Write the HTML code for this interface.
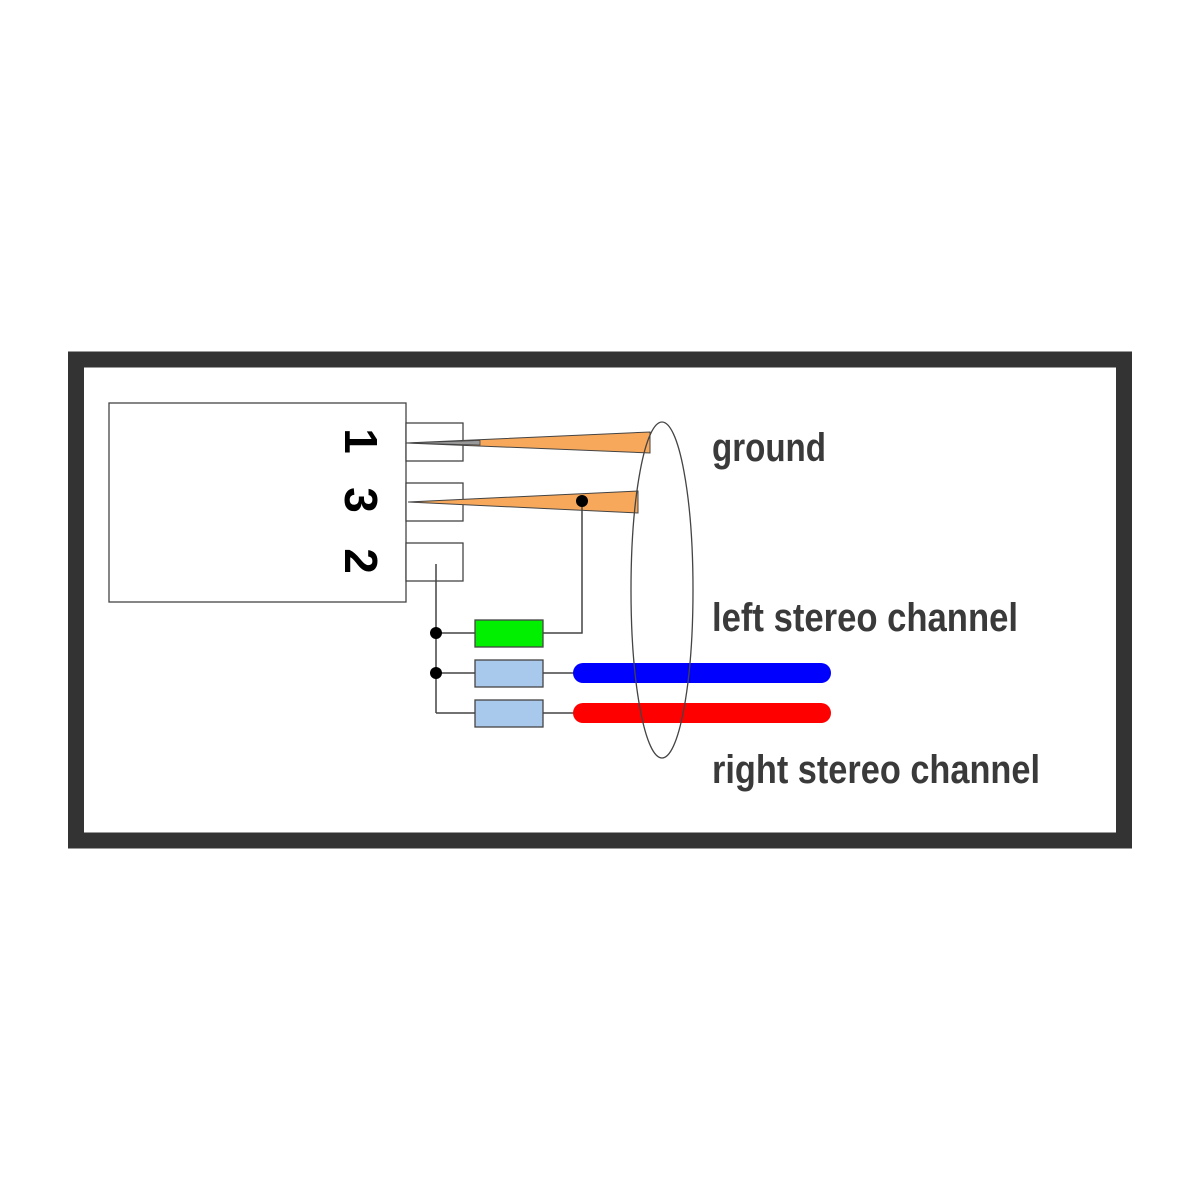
<!DOCTYPE html>
<html><head><style>html,body{margin:0;padding:0;background:#fff;}svg{display:block}</style></head>
<body>
<svg width="1200" height="1200" xmlns="http://www.w3.org/2000/svg">
<rect x="76" y="359.5" width="1048" height="481" fill="none" stroke="#333" stroke-width="16"/>
<rect x="109" y="403" width="297" height="199" fill="#fff" stroke="#444" stroke-width="1.3"/>
<g fill="#fff" stroke="#444" stroke-width="1.3">
<rect x="406" y="423" width="57" height="38"/>
<rect x="406" y="483" width="57" height="38"/>
<rect x="406" y="543" width="57" height="38"/>
</g>
<polygon points="406,443 650,432 650,453" fill="#f8a85a" stroke="#444" stroke-width="1"/>
<polygon points="406,443 480,440.5 480,445" fill="#999" stroke="#444" stroke-width="0.8"/>
<polygon points="408,502 638,491 638,513" fill="#f8a85a" stroke="#444" stroke-width="1"/>
<g stroke="#444" stroke-width="1.5" fill="none">
<polyline points="582,501 582,633 543,633"/>
<line x1="436" y1="564" x2="436" y2="713"/>
<line x1="436" y1="633" x2="475" y2="633"/>
<line x1="436" y1="673" x2="475" y2="673"/>
<line x1="436" y1="713" x2="475" y2="713"/>
<line x1="543" y1="673" x2="580" y2="673"/>
<line x1="543" y1="713" x2="580" y2="713"/>
</g>
<circle cx="582" cy="501" r="6" fill="#000"/>
<circle cx="436" cy="633" r="6" fill="#000"/>
<circle cx="436" cy="673" r="6" fill="#000"/>
<rect x="475" y="620" width="68" height="27" fill="#00f000" stroke="#444" stroke-width="1.3"/>
<rect x="475" y="660" width="68" height="27" fill="#a8c8ec" stroke="#444" stroke-width="1.3"/>
<rect x="475" y="700" width="68" height="27" fill="#a8c8ec" stroke="#444" stroke-width="1.3"/>
<line x1="583" y1="673" x2="821" y2="673" stroke="#0000ff" stroke-width="20" stroke-linecap="round"/>
<line x1="583" y1="713" x2="821" y2="713" stroke="#ff0000" stroke-width="20" stroke-linecap="round"/>
<ellipse cx="662" cy="590" rx="31" ry="168" fill="none" stroke="#444" stroke-width="1.3"/>
<g font-family="Liberation Sans, sans-serif" font-weight="bold" font-size="46" fill="#000">
<text transform="translate(345,441) rotate(90)" text-anchor="middle">1</text>
<text transform="translate(345,500) rotate(90)" text-anchor="middle">3</text>
<text transform="translate(345,561) rotate(90)" text-anchor="middle">2</text>
</g>
<g font-family="Liberation Sans Narrow, Liberation Sans, sans-serif" font-weight="bold" font-size="40" fill="#3a3a3a">
<text x="712" y="461" textLength="114" lengthAdjust="spacingAndGlyphs">ground</text>
<text x="712" y="631" textLength="306" lengthAdjust="spacingAndGlyphs">left stereo channel</text>
<text x="712" y="783" textLength="328" lengthAdjust="spacingAndGlyphs">right stereo channel</text>
</g>
</svg>
</body></html>
